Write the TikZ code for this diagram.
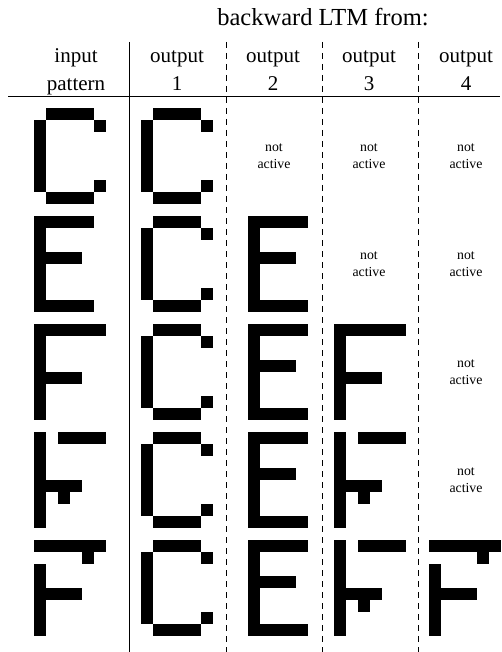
\documentclass[tikz,border=0pt]{standalone}
\usepackage{fontspec}
\setmainfont{Liberation Serif}

\tikzset{
  cell/.style={fill=black},
  title/.style={anchor=base, inner sep=0pt, font=\fontsize{24.5}{29}\selectfont},
  hdr/.style={anchor=base, inner sep=0pt, font=\fontsize{21}{25}\selectfont},
  notact/.style={align=center, inner sep=0pt, font=\fontsize{13.8}{17}\selectfont},
  sepline/.style={line width=1pt},
  dashsep/.style={line width=1pt, dash pattern=on 6pt off 5pt}
}

% 6x8 pixel patterns, one brace group per row (top to bottom)
\def\patC{{0,1,1,1,1,0},{1,0,0,0,0,1},{1,0,0,0,0,0},{1,0,0,0,0,0},{1,0,0,0,0,0},{1,0,0,0,0,0},{1,0,0,0,0,1},{0,1,1,1,1,0}}
\def\patE{{1,1,1,1,1,0},{1,0,0,0,0,0},{1,0,0,0,0,0},{1,1,1,1,0,0},{1,0,0,0,0,0},{1,0,0,0,0,0},{1,0,0,0,0,0},{1,1,1,1,1,0}}
\def\patF{{1,1,1,1,1,1},{1,0,0,0,0,0},{1,0,0,0,0,0},{1,0,0,0,0,0},{1,1,1,1,0,0},{1,0,0,0,0,0},{1,0,0,0,0,0},{1,0,0,0,0,0}}
\def\patFa{{1,0,1,1,1,1},{1,0,0,0,0,0},{1,0,0,0,0,0},{1,0,0,0,0,0},{1,1,1,1,0,0},{1,0,1,0,0,0},{1,0,0,0,0,0},{1,0,0,0,0,0}}
\def\patFb{{1,1,1,1,1,1},{0,0,0,0,1,0},{1,0,0,0,0,0},{1,0,0,0,0,0},{1,1,1,1,0,0},{1,0,0,0,0,0},{1,0,0,0,0,0},{1,0,0,0,0,0}}

\newcommand{\drawglyph}[3]{%
  \foreach \row [count=\j from 0] in #3 {%
    \foreach \bit [count=\i from 0] in \row {%
      \ifnum\bit=1
        \fill[cell] ({#1+\i*\cw},{#2+\j*\cw}) rectangle ++(\cw,\cw);
      \fi
    }%
  }%
}

\begin{document}
\begin{tikzpicture}[x=1pt, y=-1pt]
  \def\cw{12}
  \useasboundingbox (0,0) rectangle (502,652);

  % --- headings ---
  \node[title] (ltm) at (323,26) {backward LTM from:};
  \foreach \hx/\top/\bot [count=\k] in {76/input/pattern, 177/output/1, 273/output/2, 369/output/3, 466/output/4} {
    \node[hdr] (top\k) at (\hx,63) {\top};
    \node[hdr] (bot\k) at (\hx,90.5) {\bot};
  }

  % --- rules ---
  \coordinate (hl) at (8,96.5);
  \coordinate (hr) at (500,96.5);
  \draw[sepline] (hl) -- (hr);
  \draw[sepline] (129,42) -- (129,652);
  \foreach \dx in {226,322,418} {
    \draw[dashsep] (\dx,42) -- (\dx,652);
  }

  % --- row 1 ---
  \drawglyph{34}{108}{\patC}
  \drawglyph{141}{108}{\patC}
  \node[notact] (na21) at (274,156) {not\\active};
  \node[notact] (na31) at (369,156) {not\\active};
  \node[notact] (na41) at (466,156) {not\\active};

  % --- row 2 ---
  \drawglyph{34}{216}{\patE}
  \drawglyph{141}{216}{\patC}
  \drawglyph{248}{216}{\patE}
  \node[notact] (na32) at (369,264) {not\\active};
  \node[notact] (na42) at (466,264) {not\\active};

  % --- row 3 ---
  \drawglyph{34}{324}{\patF}
  \drawglyph{141}{324}{\patC}
  \drawglyph{248}{324}{\patE}
  \drawglyph{334}{324}{\patF}
  \node[notact] (na43) at (466,372) {not\\active};

  % --- row 4 ---
  \drawglyph{34}{432}{\patFa}
  \drawglyph{141}{432}{\patC}
  \drawglyph{248}{432}{\patE}
  \drawglyph{334}{432}{\patFa}
  \node[notact] (na44) at (466,480) {not\\active};

  % --- row 5 ---
  \drawglyph{34}{540}{\patFb}
  \drawglyph{141}{540}{\patC}
  \drawglyph{248}{540}{\patE}
  \drawglyph{334}{540}{\patFa}
  \drawglyph{429}{540}{\patFb}
\end{tikzpicture}
\end{document}
